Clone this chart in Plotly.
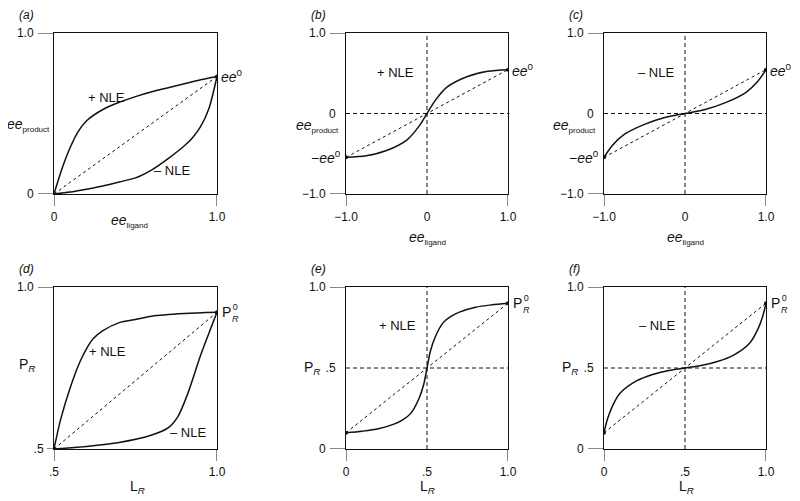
import plotly.graph_objects as go

# ---- data (x, y pairs per curve) ----
# (a) ee_product vs ee_ligand, 0..1
a_pos_x = [0, 0.05, 0.1, 0.15, 0.2, 0.3, 0.4, 0.5, 0.6, 0.7, 0.8, 0.9, 1.0]
a_pos_y = [0, 0.16, 0.29, 0.39, 0.455, 0.525, 0.57, 0.605, 0.635, 0.66, 0.685, 0.71, 0.73]
a_neg_x = [0, 0.1, 0.2, 0.3, 0.4, 0.5, 0.6, 0.7, 0.8, 0.85, 0.9, 0.95, 1.0]
a_neg_y = [0, 0.012, 0.03, 0.05, 0.075, 0.10, 0.15, 0.22, 0.30, 0.35, 0.42, 0.53, 0.73]

# (b) + NLE, -1..1
b_x = [-1, -0.75, -0.5, -0.25, -0.1, 0, 0.1, 0.25, 0.5, 0.75, 1]
b_y = [-0.545, -0.525, -0.46, -0.33, -0.16, 0, 0.16, 0.33, 0.46, 0.525, 0.545]

# (c) - NLE, -1..1
c_x = [-1, -0.9, -0.75, -0.5, -0.25, 0, 0.25, 0.5, 0.75, 0.9, 1]
c_y = [-0.545, -0.40, -0.26, -0.135, -0.05, 0, 0.05, 0.135, 0.26, 0.40, 0.545]

# (d) P_R vs L_R, .5..1
d_pos_x = [0.5, 0.52, 0.55, 0.58, 0.6, 0.62, 0.65, 0.7, 0.75, 0.8, 0.9, 1.0]
d_pos_y = [0.5, 0.59, 0.69, 0.77, 0.81, 0.84, 0.865, 0.89, 0.90, 0.91, 0.918, 0.922]
d_neg_x = [0.5, 0.6, 0.7, 0.8, 0.85, 0.88, 0.91, 0.95, 0.98, 1.0]
d_neg_y = [0.5, 0.508, 0.52, 0.543, 0.565, 0.6, 0.67, 0.79, 0.87, 0.922]

# (e) + NLE, 0..1
e_x = [0, 0.1, 0.2, 0.3, 0.35, 0.4, 0.45, 0.48, 0.5, 0.52, 0.55, 0.6, 0.65, 0.7, 0.8, 0.9, 1]
e_y = [0.1, 0.11, 0.125, 0.155, 0.18, 0.22, 0.31, 0.4, 0.5, 0.6, 0.69, 0.78, 0.82, 0.845, 0.875, 0.89, 0.9]

# (f) - NLE, 0..1
f_x = [0, 0.02, 0.05, 0.1, 0.2, 0.3, 0.4, 0.5, 0.6, 0.7, 0.8, 0.9, 0.95, 0.98, 1]
f_y = [0.1, 0.18, 0.26, 0.345, 0.42, 0.46, 0.485, 0.5, 0.515, 0.54, 0.58, 0.655, 0.74, 0.82, 0.9]

FONT = "Liberation Sans, Arial, sans-serif"
INK = "#111"

EE = "<i>ee</i>"
EE0 = "<i>ee</i><sup>0</sup>"
EE_PROD = "<i>ee</i><sub><span style='font-size:8px'>product</span></sub>"
EE_LIG = "<i>ee</i><sub><span style='font-size:8px'>ligand</span></sub>"
PR = "P<sub><i>R</i></sub>"
PAD = "\u00a0\u00a0\u00a0"   # pushes end labels past the outer tick

# panel set-up: boxes measured in pixels of the 800x501 screenshot
panels = [
    dict(tag="(a)", xd=(54, 217), yd=(33, 194), xr=(0, 1), yr=(0, 1),
         xt=[0, 1], xtt=["0", "1.0"], yt=[0, 1], ytt=["0" + PAD, "1.0" + PAD], mid=None,
         ytl=(16, 16),
         curves=[(a_pos_x, a_pos_y), (a_neg_x, a_neg_y)],
         nle=[("+ NLE", 0.325, 0.60), ("– NLE", 0.724, 0.149)]),
    dict(tag="(b)", xd=(346, 508), yd=(33, 194), xr=(-1, 1), yr=(-1, 1),
         xt=[-1, 0, 1], xtt=["−1.0", "0", "1.0"], yt=[-1, 0, 1],
         ytt=["−1.0" + PAD, "0", "1.0" + PAD], mid=0, ytl=(16, 16),
         curves=[(b_x, b_y)], nle=[("+ NLE", -0.395, 0.515)]),
    dict(tag="(c)", xd=(604, 766), yd=(33, 194), xr=(-1, 1), yr=(-1, 1),
         xt=[-1, 0, 1], xtt=["−1.0", "0", "1.0"], yt=[-1, 0, 1],
         ytt=["−1.0" + PAD, "0", "1.0" + PAD], mid=0, ytl=(16, 16),
         curves=[(c_x, c_y)], nle=[("– NLE", -0.358, 0.515)]),
    dict(tag="(d)", xd=(54, 217), yd=(287, 449), xr=(0.5, 1), yr=(0.5, 1),
         xt=[0.5, 1], xtt=[".5", "1.0"], yt=[0.5, 1], ytt=[".5", "1.0" + PAD], mid=None,
         ytl=(7, 16),
         curves=[(d_pos_x, d_pos_y), (d_neg_x, d_neg_y)],
         nle=[("+ NLE", 0.663, 0.80), ("– NLE", 0.911, 0.552)]),
    dict(tag="(e)", xd=(346, 508), yd=(287, 449), xr=(0, 1), yr=(0, 1),
         xt=[0, 0.5, 1], xtt=["0", ".5", "1.0"], yt=[0, 0.5, 1],
         ytt=["0" + PAD, ".5", "1.0" + PAD], mid=0.5, ytl=(16, 16),
         curves=[(e_x, e_y)], nle=[("+ NLE", 0.315, 0.76)]),
    dict(tag="(f)", xd=(604, 766), yd=(287, 449), xr=(0, 1), yr=(0, 1),
         xt=[0, 0.5, 1], xtt=["0", ".5", "1.0"], yt=[0, 0.5, 1],
         ytt=["0" + PAD, ".5", "1.0" + PAD], mid=0.5, ytl=(16, 16),
         curves=[(f_x, f_y)], nle=[("– NLE", 0.327, 0.76)]),
]

W, H = 800, 501
OFF = 8  # the page body margin shifts the figure by 8px
fig = go.Figure()
layout = {}
shapes = []
annots = []


def ax_id(letter, i):
    return letter if i == 1 else f"{letter}{i}"


for i, p in enumerate(panels, start=1):
    xa, ya = ax_id("x", i), ax_id("y", i)
    xk = "xaxis" if i == 1 else f"xaxis{i}"
    yk = "yaxis" if i == 1 else f"yaxis{i}"
    layout[xk] = dict(
        domain=[(p["xd"][0] - OFF) / W, (p["xd"][1] - OFF) / W], range=list(p["xr"]), anchor=ya,
        tickvals=p["xt"], ticktext=p["xtt"], ticks="outside", ticklen=12,
        tickcolor="rgba(0,0,0,0)", showgrid=False, zeroline=False, automargin=False,
        showline=True, mirror=True, linecolor=INK, linewidth=1,
        tickfont=dict(family=FONT, size=12, color=INK),
    )
    layout[yk] = dict(
        domain=[1 - (p["yd"][1] - OFF) / H, 1 - (p["yd"][0] - OFF) / H], range=list(p["yr"]),
        anchor=xa, tickvals=p["yt"], ticktext=p["ytt"], ticks="outside", ticklen=7,
        tickcolor="rgba(0,0,0,0)", showgrid=False, zeroline=False, automargin=False,
        showline=True, mirror=True, linecolor=INK, linewidth=1,
        tickfont=dict(family=FONT, size=12, color=INK),
    )

    # visible ticks only at the two ends of each axis
    for v, tl in zip(p["yr"], p["ytl"]):
        shapes.append(dict(type="line", xref=f"{xa} domain", yref=ya, xsizemode="pixel",
                           xanchor=0, x0=-tl, x1=0, y0=v, y1=v,
                           line=dict(color=INK, width=1)))
    for v in p["xr"]:
        shapes.append(dict(type="line", xref=xa, yref=f"{ya} domain", ysizemode="pixel",
                           yanchor=0, y0=-12, y1=0, x0=v, x1=v,
                           line=dict(color=INK, width=1)))

    # dashed cross-hair through the centre
    if p["mid"] is not None:
        m = p["mid"]
        shapes.append(dict(type="line", xref=xa, yref=f"{ya} domain", x0=m, x1=m, y0=0, y1=1,
                           line=dict(color=INK, width=1, dash="4px,3px")))
        shapes.append(dict(type="line", xref=f"{xa} domain", yref=ya, x0=0, x1=1, y0=m, y1=m,
                           line=dict(color=INK, width=1, dash="4px,3px")))

    cx, cy = p["curves"][0]
    # dashed linear reference between the curve end points
    fig.add_trace(go.Scatter(x=[cx[0], cx[-1]], y=[cy[0], cy[-1]], xaxis=xa, yaxis=ya,
                             mode="lines+markers", line=dict(color=INK, width=1, dash="3px,3px"),
                             marker=dict(size=4, color=INK), showlegend=False, hoverinfo="skip"))
    for xs, ys in p["curves"]:
        fig.add_trace(go.Scatter(x=xs, y=ys, xaxis=xa, yaxis=ya, mode="lines",
                                 line=dict(color=INK, width=1.5, shape="spline", smoothing=0.8),
                                 showlegend=False, hoverinfo="skip"))

    for txt, tx, ty in p["nle"]:
        annots.append(dict(text=txt, x=tx, y=ty, xref=xa, yref=ya, showarrow=False,
                           font=dict(family=FONT, size=13, color=INK)))

    # panel tag
    annots.append(dict(text=f"<i>{p['tag']}</i>", xref="paper", yref="paper",
                       x=(p["xd"][0] - 37 - OFF) / W, y=1 - (p["yd"][0] - 18 - OFF) / H,
                       xanchor="left", yanchor="middle", showarrow=False,
                       font=dict(family=FONT, size=12, color=INK)))

    # end-point labels
    ex, ey = cx[-1], cy[-1]
    if i <= 3:
        annots.append(dict(text=EE0, x=ex, y=ey, xref=xa, yref=ya, xanchor="left", xshift=2,
                           showarrow=False, font=dict(family=FONT, size=14, color=INK)))
        if i > 1:
            annots.append(dict(text="−" + EE0, x=cx[0], y=cy[0], xref=xa, yref=ya,
                               xanchor="right", xshift=-3, showarrow=False,
                               font=dict(family=FONT, size=14, color=INK)))
    else:
        annots.append(dict(text="P", x=ex, y=ey, xref=xa, yref=ya, xanchor="left", xshift=3,
                           showarrow=False, font=dict(family=FONT, size=14, color=INK)))
        annots.append(dict(text="0<br><i>R</i>", x=ex, y=ey, xref=xa, yref=ya, xanchor="left",
                           xshift=13, yshift=-1, showarrow=False,
                           font=dict(family=FONT, size=9, color=INK)))

# axis titles
eelab = dict(family=FONT, size=14, color=INK)
ylab = dict(family=FONT, size=14, color=INK)
annots += [
    dict(text=EE_PROD, xref="x domain", yref="y", x=0, y=0.43,
         xanchor="right", xshift=-2, showarrow=False, font=eelab),
    dict(text=EE_PROD, xref="x2 domain", yref="y2", x=0, y=-0.16,
         xanchor="right", xshift=-5, showarrow=False, font=eelab),
    dict(text=EE_PROD, xref="x3 domain", yref="y3", x=0, y=-0.16,
         xanchor="right", xshift=-6, showarrow=False, font=eelab),
    dict(text=EE_LIG, xref="x", yref="y domain", x=0.466, y=0,
         yanchor="middle", yshift=-27, showarrow=False, font=eelab),
    dict(text=EE_LIG, xref="x2", yref="y2 domain", x=0, y=0,
         yanchor="middle", yshift=-44, showarrow=False, font=eelab),
    dict(text=EE_LIG, xref="x3", yref="y3 domain", x=0, y=0,
         yanchor="middle", yshift=-44, showarrow=False, font=eelab),
    dict(text=PR, xref="x4 domain", yref="y4", x=0, y=0.76,
         xanchor="right", xshift=-17, showarrow=False, font=ylab),
    dict(text=PR, xref="x5 domain", yref="y5", x=0, y=0.5,
         xanchor="right", xshift=-24, showarrow=False, font=ylab),
    dict(text=PR, xref="x6 domain", yref="y6", x=0, y=0.5,
         xanchor="right", xshift=-24, showarrow=False, font=ylab),
    dict(text="L<sub><i>R</i></sub>", xref="x4", yref="y4 domain", x=0.755, y=0,
         yanchor="middle", yshift=-38, showarrow=False, font=ylab),
    dict(text="L<sub><i>R</i></sub>", xref="x5", yref="y5 domain", x=0.5, y=0,
         yanchor="middle", yshift=-38, showarrow=False, font=ylab),
    dict(text="L<sub><i>R</i></sub>", xref="x6", yref="y6 domain", x=0.51, y=0,
         yanchor="middle", yshift=-38, showarrow=False, font=ylab),
]

fig.update_layout(
    **layout,
    shapes=shapes,
    annotations=annots,
    template="none",
    width=W, height=H,
    margin=dict(l=0, r=0, t=0, b=0, autoexpand=False),
    plot_bgcolor="white", paper_bgcolor="white",
    font=dict(family=FONT, color=INK),
)

fig.write_html("out.html")
